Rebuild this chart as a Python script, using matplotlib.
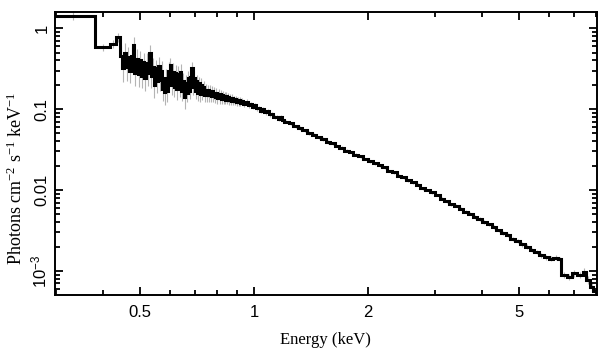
import numpy as np
import matplotlib
matplotlib.use("Agg")
import matplotlib.pyplot as plt
from matplotlib.ticker import FixedLocator, NullFormatter

plt.rcParams["font.family"] = ["Liberation Sans", "DejaVu Sans"]
plt.rcParams["mathtext.fontset"] = "custom"
plt.rcParams["mathtext.rm"] = "Liberation Serif"
plt.rcParams["mathtext.it"] = "Liberation Serif:italic"
plt.rcParams["mathtext.sf"] = "Liberation Sans"

# bin edges (keV) and unfolded flux (photons cm^-2 s^-1 keV^-1)
# wide bins at the low-energy end
edges_low = [0.29, 0.381, 0.417, 0.432, 0.443]
flux_low = [1.42, 0.58, 0.64, 0.78]
relerr_low = [0.12, 0.10, 0.12, 0.12]

# noisy part, 0.443 - 0.923 keV (upper edges)
edges_mid = [0.448, 0.453, 0.458, 0.463, 0.468, 0.473, 0.478, 0.483, 0.488,
             0.493, 0.498, 0.503, 0.508, 0.513, 0.518, 0.523, 0.528, 0.533,
             0.538, 0.543, 0.548, 0.553, 0.558, 0.563, 0.568, 0.573, 0.578,
             0.583, 0.588, 0.593, 0.598, 0.603, 0.608, 0.613, 0.618, 0.623,
             0.628, 0.633, 0.638, 0.643, 0.648, 0.653, 0.658, 0.663, 0.668,
             0.673, 0.678, 0.683, 0.688, 0.693, 0.698, 0.703, 0.708, 0.713,
             0.718, 0.723, 0.728, 0.733, 0.738, 0.743, 0.748, 0.753, 0.758,
             0.763, 0.768, 0.773, 0.778, 0.783, 0.788, 0.793, 0.798, 0.803,
             0.808, 0.813, 0.818, 0.823, 0.828, 0.833, 0.838, 0.843, 0.848,
             0.853, 0.858, 0.863, 0.868, 0.873, 0.878, 0.883, 0.888, 0.893,
             0.898, 0.903, 0.908, 0.913, 0.918, 0.923]
flux_mid = [0.46, 0.32, 0.50, 0.33, 0.44, 0.30, 0.45, 0.62, 0.28, 0.42,
            0.27, 0.40, 0.26, 0.38, 0.24, 0.37, 0.28, 0.49, 0.26, 0.33,
            0.20, 0.32, 0.22, 0.34, 0.23, 0.30, 0.18, 0.165, 0.24, 0.17,
            0.30, 0.35, 0.20, 0.29, 0.19, 0.28, 0.18, 0.27, 0.19, 0.29,
            0.17, 0.22, 0.14, 0.21, 0.16, 0.24, 0.17, 0.25, 0.32, 0.19,
            0.24, 0.17, 0.22, 0.16, 0.21, 0.155, 0.20, 0.16, 0.19, 0.15,
            0.175, 0.150, 0.172, 0.148, 0.168, 0.146, 0.166, 0.145, 0.160,
            0.142, 0.158, 0.138, 0.156, 0.136, 0.152, 0.134, 0.150, 0.133,
            0.146, 0.131, 0.144, 0.130, 0.141, 0.128, 0.139, 0.127, 0.137,
            0.125, 0.134, 0.124, 0.132, 0.122, 0.130, 0.121, 0.128, 0.120]
relerr_mid = [0.30, 0.32, 0.30, 0.32, 0.34, 0.30, 0.32, 0.26, 0.30, 0.32,
              0.30, 0.32, 0.30, 0.32, 0.30, 0.32, 0.30, 0.26, 0.30, 0.30,
              0.32, 0.28, 0.28, 0.30, 0.28, 0.30, 0.30, 0.32, 0.30, 0.28,
              0.26, 0.24, 0.26, 0.28, 0.26, 0.26, 0.28, 0.26, 0.26, 0.24,
              0.26, 0.28, 0.28, 0.26, 0.24, 0.24, 0.22, 0.24, 0.20, 0.22,
              0.22, 0.22, 0.20, 0.22, 0.20, 0.20, 0.20, 0.19, 0.19, 0.18,
              0.18, 0.18, 0.17, 0.17, 0.17, 0.17, 0.16, 0.16, 0.16, 0.15,
              0.15, 0.15, 0.14, 0.14, 0.14, 0.14, 0.13, 0.13, 0.13, 0.12,
              0.12, 0.12, 0.12, 0.11, 0.11, 0.11, 0.11, 0.10, 0.10, 0.10,
              0.10, 0.10, 0.09, 0.09, 0.09, 0.09]

# finer bins around 1 keV
edges_one = [0.936, 0.95, 0.962, 0.975, 0.987, 1.0, 1.012, 1.025, 1.037,
             1.05, 1.065, 1.08, 1.095, 1.11, 1.125, 1.14, 1.155, 1.17, 1.185,
             1.20]
flux_one = [0.126, 0.117, 0.122, 0.112, 0.116, 0.107, 0.112, 0.103, 0.102,
            0.096, 0.100, 0.091, 0.095, 0.086, 0.086, 0.081, 0.081, 0.076,
            0.079, 0.073]
relerr_one = [0.08, 0.08, 0.08, 0.08, 0.07, 0.07, 0.07, 0.07, 0.07, 0.07,
              0.07, 0.06, 0.06, 0.06, 0.06, 0.06, 0.06, 0.06, 0.06, 0.06]

# smoother continuum, 1.2 - 6.48 keV
edges_high = [1.235, 1.27, 1.305, 1.34, 1.38, 1.42, 1.46, 1.50, 1.545, 1.59,
              1.635, 1.68, 1.73, 1.78, 1.83, 1.885, 1.94, 2.0, 2.06, 2.12,
              2.18, 2.245, 2.31, 2.38, 2.45, 2.52, 2.595, 2.67, 2.75, 2.83,
              2.915, 3.0, 3.09, 3.18, 3.275, 3.37, 3.47, 3.57, 3.675, 3.78,
              3.89, 4.0, 4.12, 4.24, 4.365, 4.49, 4.62, 4.755, 4.895, 5.04,
              5.19, 5.34, 5.5, 5.66, 5.825, 6.0, 6.17, 6.35, 6.48]
flux_high = [0.070, 0.0665, 0.0612, 0.0585, 0.0548, 0.0505, 0.0485,
             0.0447, 0.0425, 0.0395, 0.038, 0.035, 0.0333, 0.0308, 0.0295,
             0.0274, 0.026, 0.0242, 0.0228, 0.0213, 0.0202, 0.019, 0.0172,
             0.0165, 0.015, 0.0143, 0.0132, 0.0125, 0.0116, 0.0105, 0.0100,
             0.0094, 0.0087, 0.0078, 0.0073, 0.0067, 0.0064, 0.0059, 0.0054,
             0.0051, 0.00465, 0.0044, 0.0040, 0.00375, 0.0035, 0.00318,
             0.00298, 0.00275, 0.0025, 0.00233, 0.00213, 0.0020, 0.0018,
             0.00172, 0.00156, 0.00148, 0.00142, 0.00145, 0.00140]
relerr_high = [0.05, 0.05, 0.05, 0.05, 0.05, 0.05, 0.05, 0.05, 0.05, 0.05,
               0.04, 0.04, 0.04, 0.04, 0.04, 0.04, 0.04, 0.04, 0.04, 0.04,
               0.04, 0.04, 0.04, 0.04, 0.04, 0.04, 0.04, 0.04, 0.04, 0.04,
               0.04, 0.04, 0.04, 0.04, 0.04, 0.04, 0.045, 0.045, 0.045, 0.045,
               0.05, 0.05, 0.05, 0.05, 0.05, 0.05, 0.055, 0.055, 0.055, 0.06,
               0.06, 0.06, 0.06, 0.065, 0.065, 0.07, 0.07, 0.07, 0.07]

# drop near the top of the band
edges_top = [6.70, 6.90, 7.11, 7.37, 7.52, 7.73, 7.84, 8.2]
flux_top = [0.00089, 0.00085, 0.00093, 0.00090, 0.00098, 0.00077, 0.00064,
            0.00056]
relerr_top = [0.09, 0.09, 0.09, 0.09, 0.10, 0.11, 0.12, 0.12]

edges = np.array(edges_low + edges_mid + edges_one + edges_high + edges_top)
flux = np.array(flux_low + flux_mid + flux_one + flux_high + flux_top)
relerr = np.array(relerr_low + relerr_mid + relerr_one + relerr_high
                  + relerr_top)
centres = np.sqrt(edges[:-1] * edges[1:])

fig = plt.figure(figsize=(6.09, 3.57), dpi=100)
ax = fig.add_axes([0.0903, 0.174, 0.8897, 0.793])

ax.vlines(centres, flux * (1 - relerr), flux * (1 + relerr),
          color="#b4b4b4", lw=0.8, zorder=1)
ax.stairs(flux, edges, color="black", lw=2.2, zorder=2)

ax.set_xscale("log")
ax.set_yscale("log")
ax.set_xlim(0.298, 8.04)
ax.set_ylim(5.05e-4, 1.6)

ax.xaxis.set_major_locator(FixedLocator([0.5, 1, 2, 5]))
ax.xaxis.set_minor_locator(FixedLocator([0.3, 0.4, 0.6, 0.7, 0.8, 0.9,
                                         3, 4, 6, 7, 8]))
ax.set_xticklabels(["0.5", "1", "2", "5"])
ax.xaxis.set_minor_formatter(NullFormatter())

ax.yaxis.set_major_locator(FixedLocator([1e-3, 1e-2, 0.1, 1]))
ax.yaxis.set_minor_locator(FixedLocator(
    [m * 10.0 ** e for e in range(-4, 1) for m in range(2, 10)]))
ax.set_yticklabels([r"$\mathsf{10^{-3}}$", "0.01", "0.1", "1"],
                   rotation=90, va="center")
ax.yaxis.set_minor_formatter(NullFormatter())

ax.tick_params(which="both", direction="in", top=True, right=True,
               width=1.3, labelsize=12)
ax.tick_params(axis="x", which="major", length=6, pad=7)
ax.tick_params(axis="y", which="major", length=6, pad=4)
ax.tick_params(which="minor", length=3.5)
for s in ax.spines.values():
    s.set_linewidth(1.4)

ax.set_xlabel("Energy (keV)", family="Liberation Serif", fontsize=12,
              labelpad=9)
ax.set_ylabel(r"Photons cm$^{-2}$ s$^{-1}$ keV$^{-1}$",
              family="Liberation Serif", fontsize=13)
ax.yaxis.set_label_coords(-0.054, 0.413)

fig.savefig("out.png", dpi=100)
